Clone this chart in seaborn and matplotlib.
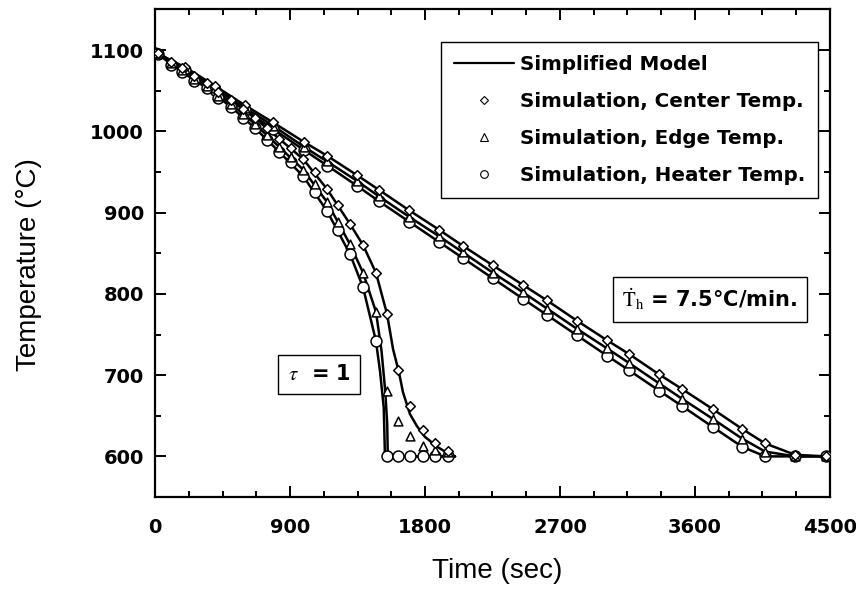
import matplotlib
matplotlib.use("Agg")
import matplotlib.pyplot as plt
import seaborn as sns
from matplotlib.lines import Line2D
from matplotlib.ticker import MultipleLocator

# --- slow heating case (7.5 C/min): simulation points, also used for model lines
t_slow = [0, 200, 400, 600, 787, 993, 1147, 1347, 1493, 1693, 1893, 2053, 2253,
          2453, 2613, 2813, 3013, 3160, 3360, 3513, 3720, 3913, 4067, 4267, 4473]
center_slow = [1097, 1079, 1056, 1032, 1011, 987, 970, 946, 928, 903, 879, 859, 835,
               811, 792, 767, 743, 726, 701, 683, 658, 634, 616, 602, 600]
edge_slow = [1096, 1077, 1053, 1029, 1007, 981, 963, 939, 920, 895, 871, 851, 826,
             802, 782, 757, 733, 715, 690, 671, 646, 622, 606, 600, 600]
heater_slow = [1096, 1076, 1051, 1026, 1003, 977, 958, 933, 914, 889, 864, 844, 819,
               794, 774, 749, 724, 706, 681, 662, 636, 612, 600, 600, 600]

# --- tau = 1 case: simulation points
t_fast = [20, 107, 180, 260, 347, 420, 507, 587, 667, 747, 827, 907, 987, 1067,
          1147, 1220, 1300, 1387, 1473, 1547, 1620, 1700, 1787, 1867, 1953]
center_fast = [1097, 1086, 1078, 1068, 1060, 1049, 1039, 1028, 1016, 1004, 991, 980, 966, 950,
               929, 910, 886, 860, 826, 775, 706, 662, 632, 617, 607]
edge_fast = [1096, 1084, 1075, 1064, 1056, 1044, 1034, 1021, 1009, 996, 981, 969, 953, 935,
             913, 888, 861, 826, 778, 681, 643, 625, 613, 608, 606]
heater_fast = [1095, 1082, 1073, 1062, 1053, 1041, 1030, 1017, 1004, 990, 975, 962, 945, 925,
               902, 879, 849, 808, 742, 600, 600, 600, 600, 600, 600]

# --- tau = 1 case: simplified model curves
t_model_center = [20, 180, 347, 507, 667, 827, 987, 1147, 1300, 1387, 1473, 1547, 1587,
                  1627, 1653, 1700, 1747, 1800, 1880, 1950, 2000]
model_center = [1097, 1078, 1060, 1039, 1016, 991, 966, 929, 886, 860, 826, 775, 732,
                703, 679, 652, 637, 624, 612, 604, 600]
t_model_edge = [20, 180, 347, 507, 667, 827, 987, 1147, 1300, 1387, 1473, 1510, 1535,
                1548, 1552, 2000]
model_edge = [1096, 1075, 1056, 1034, 1009, 981, 953, 913, 861, 826, 778, 730, 680,
              640, 600, 600]
t_model_heater = [20, 180, 347, 507, 667, 827, 987, 1147, 1300, 1387, 1473, 1500, 1525,
                  1533, 2000]
model_heater = [1095, 1073, 1053, 1030, 1004, 975, 945, 902, 849, 808, 742, 705, 660,
                600, 600]

x_ticks = [0, 900, 1800, 2700, 3600, 4500]
y_ticks = [600, 700, 800, 900, 1000, 1100]

sns.set_style("ticks")
plt.rcParams["font.family"] = ["DejaVu Sans"]
plt.rcParams["mathtext.fontset"] = "stix"
for key in ["text.color", "axes.labelcolor", "xtick.color", "ytick.color", "axes.edgecolor"]:
    plt.rcParams[key] = "black"

fig = plt.figure(figsize=(8.56, 5.9), dpi=100)
ax = fig.add_axes([0.1811, 0.1576, 0.7885, 0.8263])

line_kw = dict(color="black", lw=1.8, sort=False, estimator=None, legend=False, zorder=2)
for tt, yy in [(t_slow, center_slow), (t_slow, edge_slow), (t_slow, heater_slow),
               (t_model_center, model_center), (t_model_edge, model_edge),
               (t_model_heater, model_heater)]:
    sns.lineplot(x=tt, y=yy, ax=ax, **line_kw)

pt_kw = dict(color="white", edgecolor="black", linewidth=1.1, legend=False, zorder=3)
for tt, yy in [(t_slow, heater_slow), (t_fast, heater_fast)]:
    sns.scatterplot(x=tt, y=yy, ax=ax, marker="o", s=62, **pt_kw)
for tt, yy in [(t_slow, edge_slow), (t_fast, edge_fast)]:
    sns.scatterplot(x=tt, y=yy, ax=ax, marker="^", s=40, **pt_kw)
for tt, yy in [(t_slow, center_slow), (t_fast, center_fast)]:
    sns.scatterplot(x=tt, y=yy, ax=ax, marker="D", s=24, **pt_kw)

ax.set_xlim(0, 4500)
ax.set_ylim(550, 1150)
ax.set_xticks(x_ticks)
ax.set_yticks(y_ticks)
ax.set_xticklabels([str(v) for v in x_ticks], fontweight="bold", fontsize=14)
ax.set_yticklabels([str(v) for v in y_ticks], fontweight="bold", fontsize=14)
ax.xaxis.set_minor_locator(MultipleLocator(225))
ax.yaxis.set_minor_locator(MultipleLocator(50))
ax.tick_params(which="both", direction="in", top=True, right=True, width=1.4, color="black")
ax.tick_params(which="major", length=8)
ax.tick_params(which="minor", length=4)
ax.tick_params(axis="x", pad=15)
ax.tick_params(axis="y", pad=8)
for sp in ax.spines.values():
    sp.set_linewidth(1.6)
    sp.set_color("black")

ax.set_xlabel("Time (sec)", fontsize=20, family="Liberation Sans")
ax.set_ylabel("Temperature (°C)", fontsize=20, family="Liberation Sans")
ax.xaxis.set_label_coords(0.507, -0.125)
ax.yaxis.set_label_coords(-0.168, 0.476)

handles = [
    Line2D([], [], color="black", lw=1.6),
    Line2D([], [], ls="none", marker="D", ms=4, mfc="white", mec="black", mew=0.8),
    Line2D([], [], ls="none", marker="^", ms=5.5, mfc="white", mec="black", mew=0.8),
    Line2D([], [], ls="none", marker="o", ms=5.5, mfc="white", mec="black", mew=0.8),
]
labels = ["Simplified Model", "Simulation, Center Temp.",
          "Simulation, Edge Temp.", "Simulation, Heater Temp."]
leg = ax.legend(handles, labels, loc="upper right", bbox_to_anchor=(0.982, 0.933),
                borderaxespad=0, frameon=True, fancybox=False, edgecolor="black",
                framealpha=1, handlelength=3.0, handletextpad=0.3, labelspacing=0.9,
                borderpad=0.65, prop=dict(weight="bold", size=14.3))
leg.get_frame().set_linewidth(1.0)

box = dict(boxstyle="square,pad=0.45", facecolor="white", edgecolor="black", lw=1.0)
ax.text(1093, 701, r"$\tau$  = 1", fontsize=15, fontweight="bold",
        ha="center", va="center", bbox=box, zorder=5)
ax.text(3700, 793, r"$\dot{\mathrm{T}}_{\mathrm{h}}$" + " = 7.5°C/min.", fontsize=15,
        fontweight="bold", ha="center", va="center", bbox=box, zorder=5)

fig.savefig("out.png", dpi=100)
